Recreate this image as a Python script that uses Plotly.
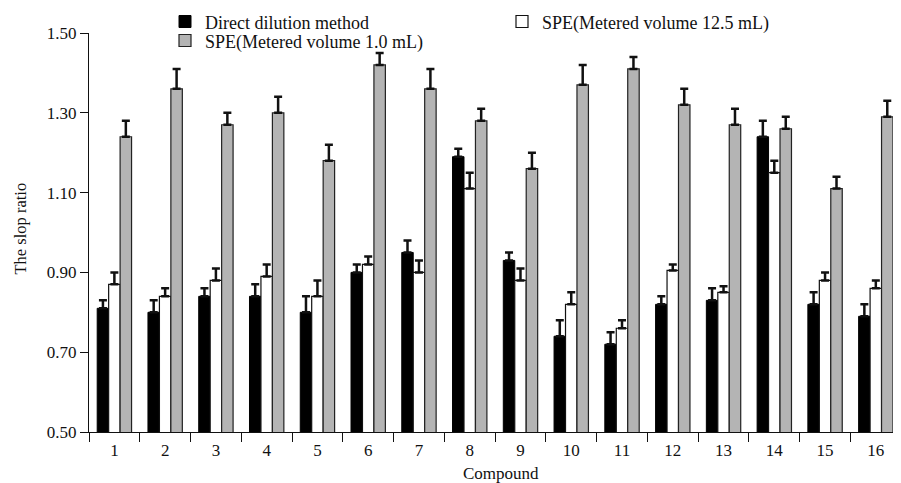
import plotly.graph_objects as go

compounds = [str(i) for i in range(1, 17)]

direct = [0.81, 0.80, 0.84, 0.84, 0.80, 0.90, 0.95, 1.19, 0.93, 0.74, 0.72, 0.82, 0.83, 1.24, 0.82, 0.79]
direct_err = [0.02, 0.03, 0.02, 0.03, 0.04, 0.02, 0.03, 0.02, 0.02, 0.04, 0.03, 0.02, 0.03, 0.04, 0.03, 0.03]

spe125 = [0.87, 0.84, 0.88, 0.89, 0.84, 0.92, 0.90, 1.11, 0.88, 0.82, 0.76, 0.905, 0.85, 1.15, 0.88, 0.86]
spe125_err = [0.03, 0.02, 0.03, 0.03, 0.04, 0.02, 0.03, 0.04, 0.03, 0.03, 0.02, 0.015, 0.015, 0.03, 0.02, 0.02]

spe10 = [1.24, 1.36, 1.27, 1.30, 1.18, 1.42, 1.36, 1.28, 1.16, 1.37, 1.41, 1.32, 1.27, 1.26, 1.11, 1.29]
spe10_err = [0.04, 0.05, 0.03, 0.04, 0.04, 0.03, 0.05, 0.03, 0.04, 0.05, 0.03, 0.04, 0.04, 0.03, 0.03, 0.04]

FONT = "Liberation Serif"
FS = 17
BARGAP = 0.323

# figure is drawn inside the page body (8 px default margin), so size it accordingly
W, H = 885, 475
ML, MR, MT, MB = 81, 0, 25, 51
PW = W - ML - MR
PH = H - MT - MB


def px_x(x):
    return (x - ML) / PW


def px_y(y):
    return (H - MB - y) / PH


def err(vals):
    return dict(type="data", symmetric=False, array=vals, arrayminus=[0] * len(vals),
                color="#111111", thickness=2.5, width=4)


fig = go.Figure()
fig.add_trace(go.Bar(x=compounds, y=direct, name="Direct dilution method",
                     marker=dict(color="#000000", line=dict(color="#000000", width=1)),
                     error_y=err(direct_err), legend="legend"))
fig.add_trace(go.Bar(x=compounds, y=spe125, name="SPE(Metered volume 12.5 mL)",
                     marker=dict(color="#ffffff", line=dict(color="#111111", width=1.2)),
                     error_y=err(spe125_err), legend="legend"))
fig.add_trace(go.Bar(x=compounds, y=spe10, name="SPE(Metered volume 1.0 mL)",
                     marker=dict(color="#b4b4b4", line=dict(color="#222222", width=1.2)),
                     error_y=err(spe10_err), legend="legend2"))

legend_common = dict(orientation="h", xanchor="left", yanchor="top",
                     entrywidth=292, bgcolor="rgba(0,0,0,0)",
                     font=dict(family=FONT, size=18, color="#111111"),
                     tracegroupgap=0)

x_right = (len(compounds) - 1) + (1 - BARGAP) / 2

fig.update_layout(
    width=W, height=H,
    margin=dict(l=ML, r=MR, t=MT, b=MB, autoexpand=False),
    paper_bgcolor="white", plot_bgcolor="white",
    barmode="group", bargap=BARGAP, bargroupgap=0,
    font=dict(family=FONT, size=FS, color="#111111"),
    showlegend=True,
    legend=dict(x=px_x(157), y=px_y(-4.7), **legend_common),
    legend2=dict(x=px_x(157), y=px_y(14.3), **legend_common),
    xaxis=dict(type="category", range=[-0.5, x_right], showline=True, linecolor="#111111",
               linewidth=1, ticks="outside", tickson="boundaries", ticklen=9,
               tickcolor="#111111", showgrid=False, zeroline=False,
               ticklabelstandoff=3,
               tickfont=dict(family=FONT, size=FS)),
    yaxis=dict(range=[0.5, 1.5], tick0=0.5, dtick=0.2, tickformat=".2f", showline=True,
               linecolor="#111111", linewidth=1, ticks="outside", ticklen=8,
               tickcolor="#111111", showgrid=False, zeroline=False,
               tickfont=dict(family=FONT, size=FS)),
    annotations=[
        dict(text="The slop ratio", xref="paper", yref="paper", x=px_x(12),
             y=px_y(220.5), xanchor="center", yanchor="middle", textangle=-90,
             showarrow=False, font=dict(family=FONT, size=16.5)),
        dict(text="Compound", xref="paper", yref="paper", x=px_x(493),
             y=px_y(466), xanchor="center", yanchor="middle",
             showarrow=False, font=dict(family=FONT, size=FS)),
    ],
)

fig.write_html("out.html")
